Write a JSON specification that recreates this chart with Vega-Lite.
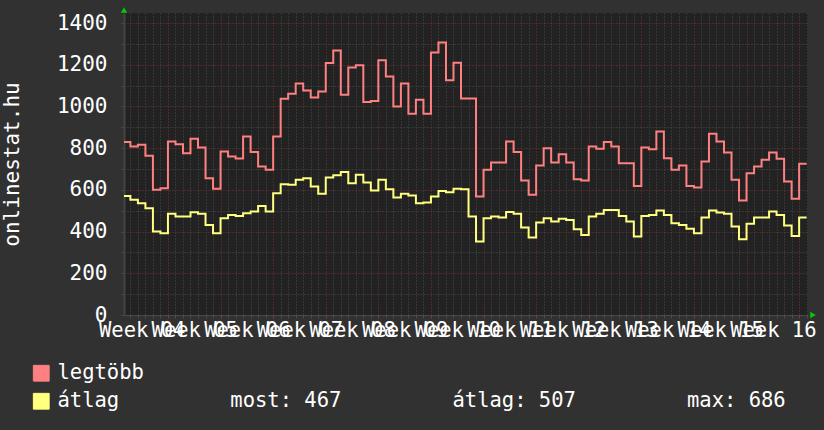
{
  "$schema": "https://vega.github.io/schema/vega-lite/v6.json",
  "width": 684,
  "height": 302,
  "autosize": {"type": "none"},
  "padding": {"left": 124, "top": 13, "right": 16, "bottom": 115},
  "background": "#313131",
  "view": {"fill": "#222222", "stroke": null},
  "config": {"font": "DejaVu Sans Mono"},
  "datasets": {
    "series": [
      {"d": -1, "legtöbb": 829, "átlag": 571},
      {"d": 0, "legtöbb": 808, "átlag": 552},
      {"d": 1, "legtöbb": 816, "átlag": 536},
      {"d": 2, "legtöbb": 763, "átlag": 512},
      {"d": 3, "legtöbb": 600, "átlag": 400},
      {"d": 4, "legtöbb": 608, "átlag": 392},
      {"d": 5, "legtöbb": 832, "átlag": 485},
      {"d": 6, "legtöbb": 819, "átlag": 472},
      {"d": 7, "legtöbb": 776, "átlag": 472},
      {"d": 8, "legtöbb": 845, "átlag": 493},
      {"d": 9, "legtöbb": 803, "átlag": 485},
      {"d": 10, "legtöbb": 656, "átlag": 432},
      {"d": 11, "legtöbb": 605, "átlag": 392},
      {"d": 12, "legtöbb": 784, "átlag": 464},
      {"d": 13, "legtöbb": 760, "átlag": 480},
      {"d": 14, "legtöbb": 750, "átlag": 475},
      {"d": 15, "legtöbb": 856, "átlag": 488},
      {"d": 16, "legtöbb": 781, "átlag": 496},
      {"d": 17, "legtöbb": 712, "átlag": 523},
      {"d": 18, "legtöbb": 696, "átlag": 496},
      {"d": 19, "legtöbb": 856, "átlag": 584},
      {"d": 20, "legtöbb": 1037, "átlag": 627},
      {"d": 21, "legtöbb": 1061, "átlag": 624},
      {"d": 22, "legtöbb": 1110, "átlag": 648},
      {"d": 23, "legtöbb": 1077, "átlag": 656},
      {"d": 24, "legtöbb": 1043, "átlag": 616},
      {"d": 25, "legtöbb": 1072, "átlag": 581},
      {"d": 26, "legtöbb": 1208, "átlag": 659},
      {"d": 27, "legtöbb": 1268, "átlag": 670},
      {"d": 28, "legtöbb": 1056, "átlag": 686},
      {"d": 29, "legtöbb": 1187, "átlag": 632},
      {"d": 30, "legtöbb": 1197, "átlag": 672},
      {"d": 31, "legtöbb": 1021, "átlag": 635},
      {"d": 32, "legtöbb": 1026, "átlag": 597},
      {"d": 33, "legtöbb": 1221, "átlag": 648},
      {"d": 34, "legtöbb": 1144, "átlag": 603},
      {"d": 35, "legtöbb": 1000, "átlag": 563},
      {"d": 36, "legtöbb": 1110, "átlag": 581},
      {"d": 37, "legtöbb": 965, "átlag": 573},
      {"d": 38, "legtöbb": 1032, "átlag": 536},
      {"d": 39, "legtöbb": 965, "átlag": 539},
      {"d": 40, "legtöbb": 1259, "átlag": 568},
      {"d": 41, "legtöbb": 1307, "átlag": 595},
      {"d": 42, "legtöbb": 1125, "átlag": 589},
      {"d": 43, "legtöbb": 1210, "átlag": 605},
      {"d": 44, "legtöbb": 1038, "átlag": 603},
      {"d": 45, "legtöbb": 1038, "átlag": 472},
      {"d": 46, "legtöbb": 568, "átlag": 352},
      {"d": 47, "legtöbb": 696, "átlag": 464},
      {"d": 48, "legtöbb": 731, "átlag": 472},
      {"d": 49, "legtöbb": 731, "átlag": 468},
      {"d": 50, "legtöbb": 832, "átlag": 494},
      {"d": 51, "legtöbb": 781, "átlag": 485},
      {"d": 52, "legtöbb": 645, "átlag": 419},
      {"d": 53, "legtöbb": 576, "átlag": 371},
      {"d": 54, "legtöbb": 717, "átlag": 443},
      {"d": 55, "legtöbb": 800, "átlag": 464},
      {"d": 56, "legtöbb": 731, "átlag": 448},
      {"d": 57, "legtöbb": 771, "átlag": 461},
      {"d": 58, "legtöbb": 731, "átlag": 456},
      {"d": 59, "legtöbb": 651, "átlag": 411},
      {"d": 60, "legtöbb": 645, "átlag": 384},
      {"d": 61, "legtöbb": 808, "átlag": 472},
      {"d": 62, "legtöbb": 797, "átlag": 485},
      {"d": 63, "legtöbb": 830, "átlag": 504},
      {"d": 64, "legtöbb": 808, "átlag": 504},
      {"d": 65, "legtöbb": 728, "átlag": 475},
      {"d": 66, "legtöbb": 728, "átlag": 448},
      {"d": 67, "legtöbb": 619, "átlag": 376},
      {"d": 68, "legtöbb": 803, "átlag": 475},
      {"d": 69, "legtöbb": 795, "átlag": 480},
      {"d": 70, "legtöbb": 880, "átlag": 501},
      {"d": 71, "legtöbb": 752, "átlag": 480},
      {"d": 72, "legtöbb": 696, "átlag": 440},
      {"d": 73, "legtöbb": 717, "átlag": 432},
      {"d": 74, "legtöbb": 619, "átlag": 413},
      {"d": 75, "legtöbb": 611, "átlag": 392},
      {"d": 76, "legtöbb": 736, "átlag": 467},
      {"d": 77, "legtöbb": 869, "átlag": 501},
      {"d": 78, "legtöbb": 832, "átlag": 491},
      {"d": 79, "legtöbb": 779, "átlag": 485},
      {"d": 80, "legtöbb": 648, "átlag": 424},
      {"d": 81, "legtöbb": 549, "átlag": 363},
      {"d": 82, "legtöbb": 680, "átlag": 437},
      {"d": 83, "legtöbb": 712, "átlag": 467},
      {"d": 84, "legtöbb": 744, "átlag": 467},
      {"d": 85, "legtöbb": 779, "átlag": 496},
      {"d": 86, "legtöbb": 749, "átlag": 480},
      {"d": 87, "legtöbb": 640, "átlag": 429},
      {"d": 88, "legtöbb": 557, "átlag": 379},
      {"d": 89, "legtöbb": 725, "átlag": 467},
      {"d": 90, "legtöbb": 725, "átlag": 467}
    ]
  },
  "layer": [
    {
      "data": {"name": "series"},
      "transform": [{"fold": ["legtöbb", "átlag"], "as": ["sorozat", "ertek"]}],
      "mark": {"type": "line", "interpolate": "step-after", "strokeWidth": 2, "clip": true},
      "encoding": {
        "x": {
          "field": "d",
          "type": "quantitative",
          "scale": {"domain": [-0.85, 90.18], "nice": false, "zero": false},
          "axis": {
            "title": null,
            "values": [0,1,1.5,2,3,4,5,6,7,8,8.5,9,10,11,12,13,14,15,15.5,16,17,18,19,20,21,22,22.5,23,24,25,26,27,28,29,29.5,30,31,32,33,34,35,36,36.5,37,38,39,40,41,42,43,43.5,44,45,46,47,48,49,50,50.5,51,52,53,54,55,56,57,57.5,58,59,60,61,62,63,64,64.5,65,66,67,68,69,70,71,71.5,72,73,74,75,76,77,78,78.5,79,80,81,82,83,84,85,85.5,86,87,88,89,90],
            "tickCount": 500,
            "grid": true,
            "gridColor": {"condition": {"test": "(datum.value - 5) % 7 === 0", "value": "#7a3434"}, "value": "#4d4d4d"},
            "gridOpacity": {"condition": {"test": "datum.value % 1 !== 0", "value": 0}, "value": 1},
            "gridDash": [1, 2],
            "tickSize": 3,
            "tickColor": {"condition": {"test": "(datum.value - 5) % 7 === 0", "value": "#8a3a3a"}, "value": "#4d4d4d"},
            "tickOpacity": {"condition": {"test": "datum.value % 1 !== 0", "value": 0}, "value": 1},
            "domainColor": "#4a4a4a",
            "labelExpr": "datum.value % 1 !== 0 ? 'Week ' + ((floor((datum.value - 1.5) / 7) + 4) < 10 ? '0' : '') + (floor((datum.value - 1.5) / 7) + 4) : ''",
            "labelOverlap": false,
            "labelBound": false,
            "labelFlush": false,
            "labelFont": "DejaVu Sans Mono",
            "labelFontSize": 20.5,
            "labelColor": "#ffffff",
            "labelPadding": 2
          }
        },
        "y": {
          "field": "ertek",
          "type": "quantitative",
          "scale": {"domain": [0, 1448], "nice": false},
          "axis": {
            "title": "onlinestat.hu",
            "values": [0,100,200,300,400,500,600,700,800,900,1000,1100,1200,1300,1400],
            "tickCount": 100,
            "format": "d",
            "labelExpr": "datum.value % 200 === 0 ? datum.label : ''",
            "grid": true,
            "gridColor": {"condition": {"test": "datum.value % 200 === 0", "value": "#7a3434"}, "value": "#4d4d4d"},
            "gridDash": [1, 2],
            "tickSize": 4,
            "tickColor": "#444444",
            "domainColor": "#444444",
            "domainWidth": 2,
            "labelFont": "DejaVu Sans Mono",
            "labelFontSize": 21,
            "labelColor": "#ffffff",
            "labelPadding": 13,
            "titleFont": "DejaVu Sans Mono",
            "titleFontSize": 21,
            "titleFontWeight": "normal",
            "titleColor": "#ffffff",
            "titleAngle": 270,
            "titleAlign": "center",
            "titleBaseline": "alphabetic",
            "titleX": -106,
            "titleY": 151
          }
        },
        "color": {
          "field": "sorozat",
          "type": "nominal",
          "scale": {"domain": ["legtöbb", "átlag"], "range": ["#ff8080", "#ffff80"]},
          "legend": {
            "orient": "none",
            "legendX": -93,
            "legendY": 350,
            "title": null,
            "padding": 0,
            "symbolType": "square",
            "symbolSize": 250,
            "symbolStrokeColor": "#000000",
            "symbolStrokeWidth": 1,
            "labelFont": "DejaVu Sans Mono",
            "labelFontSize": 20.5,
            "labelColor": "#ffffff",
            "labelOffset": 6,
            "labelLimit": 1000,
            "labelExpr": "datum.label === 'átlag' ? 'átlag\u00a0\u00a0\u00a0\u00a0\u00a0\u00a0\u00a0\u00a0\u00a0most: 467\u00a0\u00a0\u00a0\u00a0\u00a0\u00a0\u00a0\u00a0\u00a0átlag: 507\u00a0\u00a0\u00a0\u00a0\u00a0\u00a0\u00a0\u00a0\u00a0max: 686' : datum.label",
            "rowPadding": 7,
            "encode": {
              "symbols": {
                "update": {
                  "fill": {"scale": "color", "field": "value"},
                  "fillOpacity": {"value": 1},
                  "stroke": {"value": "#000000"},
                  "strokeWidth": {"value": 1}
                }
              }
            }
          }
        }
      }
    },
    {
      "data": {"values": [{}]},
      "mark": {"type": "point", "shape": "triangle-up", "filled": true, "color": "#00cc00", "opacity": 1, "size": 40, "yOffset": -3, "clip": false},
      "encoding": {
        "x": {"datum": -0.85, "type": "quantitative"},
        "y": {"datum": 1448, "type": "quantitative"}
      }
    },
    {
      "data": {"values": [{}]},
      "mark": {"type": "point", "shape": "triangle-right", "filled": true, "color": "#00cc00", "opacity": 1, "size": 40, "xOffset": 5, "clip": false},
      "encoding": {
        "x": {"datum": 90.18, "type": "quantitative"},
        "y": {"datum": 0, "type": "quantitative"}
      }
    }
  ]
}
